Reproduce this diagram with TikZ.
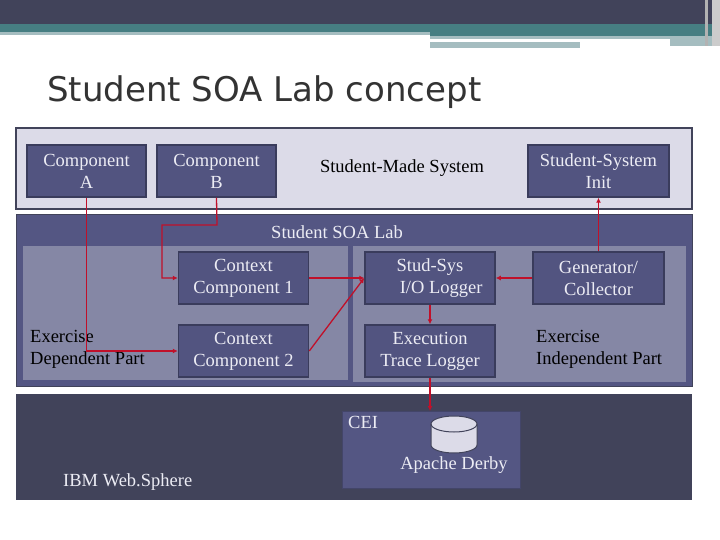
\documentclass[tikz,border=0pt]{standalone}
\usepackage{fontspec}
\setmainfont{Liberation Serif}
\newfontfamily\titlefont{DejaVu Sans}
\usetikzlibrary{shapes.geometric,arrows.meta}
\definecolor{dark}{HTML}{41435A}
\definecolor{teal}{HTML}{467E82}
\definecolor{lteal}{HTML}{A5BDC0}
\definecolor{topfill}{HTML}{DCDBE8}
\definecolor{mid}{HTML}{545683}
\definecolor{panel}{HTML}{8587A5}
\definecolor{nodefill}{HTML}{525480}
\definecolor{nodeline}{HTML}{3A3C5C}
\definecolor{ntext}{HTML}{ECECF4}
\definecolor{arr}{HTML}{C0102A}
\tikzset{
 comp/.style={draw=nodeline,line width=1.5pt,fill=nodefill,text=ntext,minimum width=#1,minimum height=52pt,align=center,inner sep=0pt,font=\fontsize{18.5}{22}\selectfont},
 comp/.default=130pt,
 lbl/.style={font=\fontsize{18.5}{22}\selectfont,align=left,inner sep=0pt},
 conn/.style={draw=arr,line width=1.3pt,-{Latex[length=5pt,width=5pt]}}
}
\begin{document}
\begin{tikzpicture}[x=1pt,y=-1pt]
\useasboundingbox (0,0) rectangle (720,540);
\fill[white] (0,0) rectangle (720,540);
% banner
\fill[dark] (0,0) rectangle (720,24);
\fill[teal] (0,24) rectangle (720,32);
\fill[lteal] (0,32) rectangle (430,35);
\fill[teal] (430,32) rectangle (720,36);
\fill[lteal] (430,36) rectangle (670,39);
\fill[lteal] (430,42) rectangle (580,48);
\fill[lteal] (670,36) rectangle (720,46);
\fill[gray!60] (705,0) rectangle (708,46);
\fill[gray!40] (712,0) rectangle (720,46);
\node[anchor=base west,inner sep=0pt,text=black!80,font=\titlefont\fontsize{34}{40}\selectfont] (title) at (47,102) {Student SOA Lab concept};
% big boxes
\draw[fill=topfill,draw=dark,line width=2pt] (16,128) rectangle (692,209);
\draw[fill=mid,draw=dark,line width=1pt] (16,215) rectangle (692,386);
\fill[panel] (23,246) rectangle (348,380);
\fill[panel] (353,246) rectangle (686,382);
\fill[dark] (16,394) rectangle (692,500);
\draw[fill=mid,draw=mid!80!black] (342,411) rectangle (520,488);
% nodes
\node[comp=119pt] (A) at (86.5,171) {Component\\A};
\node[comp=119pt] (B) at (216.5,171) {Component\\B};
\node[comp=141pt] (init) at (598.5,171) {Student-System\\Init};
\node[lbl] (sms) at (402,168) {Student-Made System};
\node[lbl,text=ntext] (lab) at (337,232) {Student SOA Lab};
\node[comp] (cc1) at (243.5,278) {Context\\Component 1};
\node[comp] (cc2) at (243.5,351) {Context\\Component 2};
\node[comp] (io) at (430,278) {Stud-Sys\\\hspace*{1.2em}I/O Logger};
\node[comp] (etl) at (430,351) {Execution\\Trace Logger};
\node[comp=131pt] (gen) at (598.5,278) {Generator/\\Collector};
\node[lbl,anchor=north west] (edp) at (30,330) {Exercise\\Dependent Part};
\node[lbl,anchor=north west] (eip) at (536,330) {Exercise\\Independent Part};
\node[lbl,anchor=north west,text=ntext] (cei) at (348,416) {CEI};
\node[lbl,text=ntext] (derby) at (454,465) {Apache Derby};
\node[lbl,anchor=north west,text=ntext] (ibm) at (63,473) {IBM Web.Sphere};
% database cylinder
\draw[fill=topfill,draw=dark,line width=1pt] (431,424) -- (431,445) arc[start angle=180,end angle=0,x radius=23,y radius=8] -- (477,424) arc[start angle=0,end angle=-180,x radius=23,y radius=8] -- cycle;
\draw[draw=dark,line width=1pt] (431,424) arc[start angle=180,end angle=0,x radius=23,y radius=8];
\coordinate (ceitop) at (430,411);
% connectors
\draw[conn] (A.south) |- (cc2.west);
\draw[conn] (B.south) -- (217,225) -| (162,278) -- (cc1.west);
\draw[conn] (cc1.east) -- (io.west);
\draw[conn] (cc2.east) -- (io.west);
\draw[conn] (gen.west) -- (io.east);
\draw[conn] (io.south) -- (etl.north);
\draw[conn] (etl.south) -- (ceitop);
\draw[conn] (gen.north) -- (init.south);
\end{tikzpicture}
\end{document}
